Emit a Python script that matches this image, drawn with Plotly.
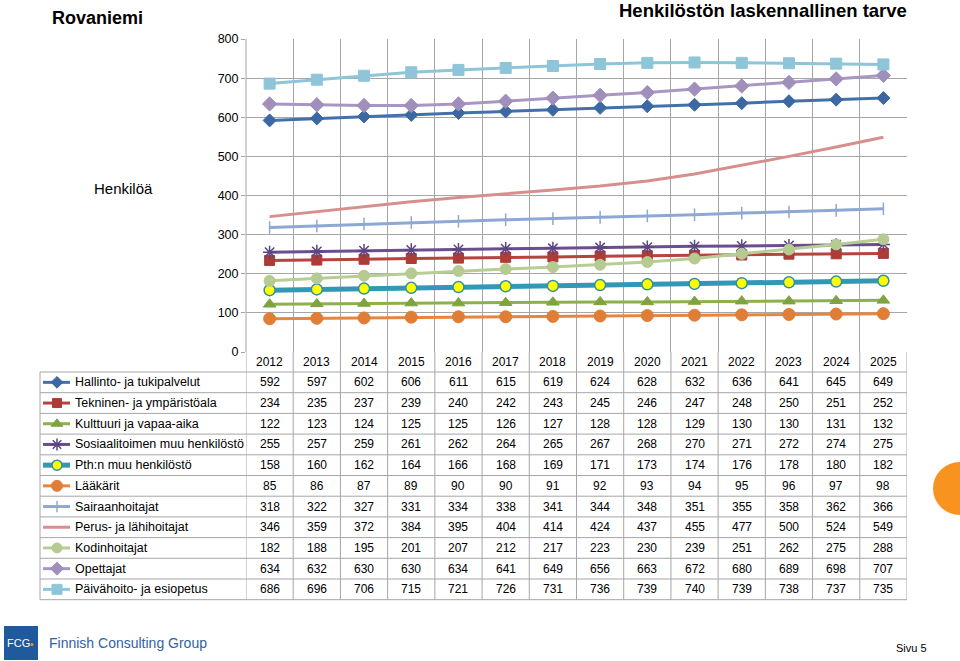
import plotly.graph_objects as go

years = list(range(2012, 2026))
series_names = [
    "Hallinto- ja tukipalvelut", "Tekninen- ja ympäristöala", "Kulttuuri ja vapaa-aika",
    "Sosiaalitoimen muu henkilöstö", "Pth:n muu henkilöstö", "Lääkärit", "Sairaanhoitajat",
    "Perus- ja lähihoitajat", "Kodinhoitajat", "Opettajat", "Päivähoito- ja esiopetus",
]
hallinto = [592, 597, 602, 606, 611, 615, 619, 624, 628, 632, 636, 641, 645, 649]
tekninen = [234, 235, 237, 239, 240, 242, 243, 245, 246, 247, 248, 250, 251, 252]
kulttuuri = [122, 123, 124, 125, 125, 126, 127, 128, 128, 129, 130, 130, 131, 132]
sosiaali = [255, 257, 259, 261, 262, 264, 265, 267, 268, 270, 271, 272, 274, 275]
pth = [158, 160, 162, 164, 166, 168, 169, 171, 173, 174, 176, 178, 180, 182]
laakarit = [85, 86, 87, 89, 90, 90, 91, 92, 93, 94, 95, 96, 97, 98]
sairaan = [318, 322, 327, 331, 334, 338, 341, 344, 348, 351, 355, 358, 362, 366]
perus = [346, 359, 372, 384, 395, 404, 414, 424, 437, 455, 477, 500, 524, 549]
kodin = [182, 188, 195, 201, 207, 212, 217, 223, 230, 239, 251, 262, 275, 288]
opettajat = [634, 632, 630, 630, 634, 641, 649, 656, 663, 672, 680, 689, 698, 707]
paivahoito = [686, 696, 706, 715, 721, 726, 731, 736, 739, 740, 739, 738, 737, 735]
y_ticks = [0, 100, 200, 300, 400, 500, 600, 700, 800]

values = [hallinto, tekninen, kulttuuri, sosiaali, pth, laakarit, sairaan, perus, kodin, opettajat, paivahoito]

# styles: (line color, marker symbol, marker fill, marker line color, marker size, line width)
styles = [
    ("#4470AA", "diamond", "#3B68A3", "#3B68A3", 10, 3),
    ("#B5443F", "square", "#AD3B36", "#AD3B36", 10, 3),
    ("#8DB04C", "triangle-up", "#7FA33F", "#7FA33F", 11, 3),
    ("#6B4E8E", "asterisk-open", "#5C4580", "#5C4580", 11, 3),
    ("#3398B5", "circle", "#FFFF00", "#2E8FA3", 11, 5),
    ("#E8853E", "circle", "#E07E35", "#E07E35", 12, 3),
    ("#8EA8D4", "line-ns-open", "#8EA8D4", "#8EA8D4", 9, 3),
    ("#D68F8C", None, None, None, 0, 3),
    ("#B8CD94", "circle", "#B5CB91", "#B5CB91", 11, 3),
    ("#A897C2", "diamond", "#A08FBB", "#A08FBB", 11, 3),
    ("#8EC5D8", "square", "#8EC5D8", "#8EC5D8", 11, 3),
]

W, H = 960, 661
plot_left, plot_right = 246, 907
plot_top, plot_bottom = 39, 352
table_left = 40
row_top = 372
row_h = 20.7

FONT = "Liberation Sans, Arial, sans-serif"
GRID = "#A6A6A6"

fig = go.Figure()

for i, (name, vals) in enumerate(zip(series_names, values)):
    lc, sym, mf, ml, ms, lw = styles[i]
    if sym is None:
        fig.add_trace(go.Scatter(x=years, y=vals, mode="lines", name=name,
                                 line=dict(color=lc, width=lw), xaxis="x", yaxis="y"))
    else:
        mline_w = 1.5 if sym in ("asterisk-open", "line-ns-open") or i == 4 else 1
        fig.add_trace(go.Scatter(x=years, y=vals, mode="lines+markers", name=name,
                                 line=dict(color=lc, width=lw),
                                 marker=dict(symbol=sym, size=ms, color=mf,
                                             line=dict(color=ml, width=mline_w)),
                                 xaxis="x", yaxis="y"))

shapes = []
annotations = []

for r, (name, vals) in enumerate(zip(series_names, values)):
    yc = row_top + row_h * (r + 0.5)
    lc, sym, mf, ml, ms, lw = styles[r]
    fig.add_trace(go.Scatter(x=[43, 70], y=[yc, yc], mode="lines",
                             line=dict(color=lc, width=lw), xaxis="x2", yaxis="y2",
                             showlegend=False, hoverinfo="skip"))
    if sym is not None:
        mline_w = 1.5 if sym in ("asterisk-open", "line-ns-open") or r == 4 else 1
        fig.add_trace(go.Scatter(x=[57], y=[yc], mode="markers",
                                 marker=dict(symbol=sym, size=ms - 1, color=mf,
                                             line=dict(color=ml, width=mline_w)),
                                 xaxis="x2", yaxis="y2", showlegend=False, hoverinfo="skip"))
    annotations.append(dict(x=73, y=yc, xref="x2", yref="y2", text=name, showarrow=False,
                            xanchor="left", yanchor="middle",
                            font=dict(family=FONT, size=12.5, color="#000000")))
    for yr, v in zip(years, vals):
        annotations.append(dict(x=yr, y=yc, xref="x", yref="y2", text=str(v), showarrow=False,
                                xanchor="center", yanchor="middle",
                                font=dict(family=FONT, size=12, color="#000000")))

for yr in years:
    annotations.append(dict(x=yr, y=362, xref="x", yref="y2", text=str(yr), showarrow=False,
                            xanchor="center", yanchor="middle",
                            font=dict(family=FONT, size=12, color="#000000")))

table_bottom = row_top + row_h * len(series_names)
for k in range(len(series_names) + 1):
    yy = row_top + row_h * k
    shapes.append(dict(type="line", xref="x2", yref="y2", x0=table_left, x1=plot_right,
                       y0=yy, y1=yy, line=dict(color=GRID, width=1)))
shapes.append(dict(type="line", xref="x2", yref="y2", x0=table_left, x1=table_left,
                   y0=row_top, y1=table_bottom, line=dict(color=GRID, width=1)))
for yr in years + [years[-1] + 1]:
    shapes.append(dict(type="line", xref="x", yref="y2", x0=yr - 0.5, x1=yr - 0.5,
                       y0=plot_bottom, y1=table_bottom, line=dict(color=GRID, width=1)))
shapes.append(dict(type="line", xref="x2", yref="y2", x0=plot_left, x1=plot_left,
                   y0=plot_top, y1=plot_bottom, line=dict(color=GRID, width=1)))

annotations += [
    dict(x=50, y=18, xref="x2", yref="y2", text="<b>Rovaniemi</b>", showarrow=False,
         xanchor="left", yanchor="middle", font=dict(family=FONT, size=18, color="#000000")),
    dict(x=909, y=10, xref="x2", yref="y2", text="<b>Henkilöstön laskennallinen tarve</b>",
         showarrow=False, xanchor="right", yanchor="middle",
         font=dict(family=FONT, size=18.5, color="#000000")),
    dict(x=123, y=188, xref="x2", yref="y2", text="Henkilöä", showarrow=False,
         xanchor="center", yanchor="middle", font=dict(family=FONT, size=15, color="#000000")),
    dict(x=18, y=643, xref="x2", yref="y2", text="FCG", showarrow=False,
         xanchor="center", yanchor="middle",
         font=dict(family="Liberation Sans Narrow, Liberation Sans, Arial", size=11, color="#FFFFFF")),
    dict(x=47, y=643, xref="x2", yref="y2", text="Finnish Consulting Group", showarrow=False,
         xanchor="left", yanchor="middle", font=dict(family=FONT, size=14, color="#2F62A6")),
    dict(x=911, y=648, xref="x2", yref="y2", text="Sivu 5", showarrow=False,
         xanchor="center", yanchor="middle", font=dict(family=FONT, size=11, color="#000000")),
]
shapes += [
    dict(type="rect", xref="x2", yref="y2", x0=4, x1=38, y0=626, y1=660,
         fillcolor="#1E5A9C", line=dict(width=0)),
    dict(type="circle", xref="x2", yref="y2", x0=30.5, x1=33.5, y0=643, y1=646,
         fillcolor="#F7931E", line=dict(width=0)),
    dict(type="circle", xref="x2", yref="y2", x0=933, x1=987, y0=462, y1=515,
         fillcolor="#F7931E", line=dict(width=0)),
]

fig.update_layout(
    template="none",
    width=W, height=H,
    autosize=False,
    margin=dict(l=0, r=0, t=0, b=0, pad=0, autoexpand=False),
    paper_bgcolor="#FFFFFF", plot_bgcolor="rgba(0,0,0,0)",
    showlegend=False,
    font=dict(family=FONT, size=12, color="#000000"),
    xaxis=dict(domain=[plot_left / W, plot_right / W], range=[2011.5, 2025.5],
               tickvals=[y + 0.5 for y in range(2011, 2026)], showticklabels=False, ticks="",
               showgrid=True, gridcolor=GRID, gridwidth=1, zeroline=False, automargin=False,
               showline=False, anchor="y", fixedrange=True),
    yaxis=dict(domain=[(H - plot_bottom) / H, (H - plot_top) / H], range=[0, 800],
               tickvals=y_ticks, ticks="outside", ticklen=4, tickcolor=GRID, tickwidth=1,
               showgrid=True, gridcolor=GRID, gridwidth=1, zeroline=False, automargin=False,
               tickfont=dict(family=FONT, size=12.5, color="#000000"),
               showline=False, anchor="x", fixedrange=True),
    xaxis2=dict(domain=[0, 1], range=[0, W], visible=False, anchor="y2", fixedrange=True,
                automargin=False),
    yaxis2=dict(domain=[0, 1], range=[H, 0], visible=False, anchor="x2", fixedrange=True,
                automargin=False),
    shapes=shapes,
    annotations=annotations,
)

fig.write_html("out.html", config={"displayModeBar": False})
